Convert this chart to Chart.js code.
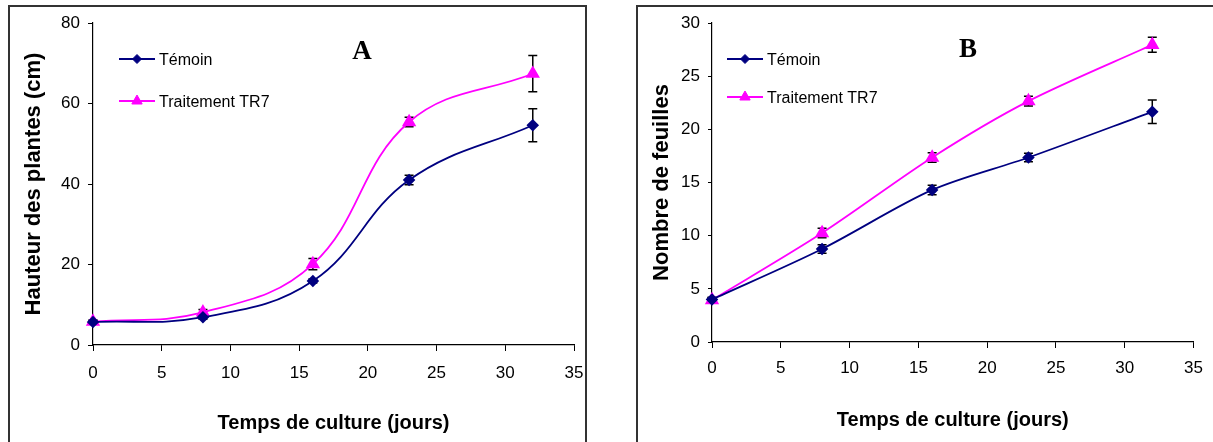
<!DOCTYPE html>
<html><head><meta charset="utf-8">
<script src="https://cdn.jsdelivr.net/npm/chart.js@4.4.1/dist/chart.umd.min.js"></script>
<style>
html,body{margin:0;padding:0;background:#fff;overflow:hidden;width:1213px;height:442px;}
.frame{position:absolute;top:5px;height:480px;border:2px solid #333;border-bottom:none;box-sizing:border-box;}
#frameA{left:8px;width:579px;}
#frameB{left:636px;width:620px;}
canvas{position:absolute;top:0;}
</style></head>
<body>
<div class="frame" id="frameA"></div>
<div class="frame" id="frameB"></div>
<canvas id="chartA" width="600" height="442" style="left:0px"></canvas>
<canvas id="chartB" width="607" height="442" style="left:606px"></canvas>
<script>
// ---- data ----
const days = [0, 8, 16, 23, 32];
const seriesNames = ['Témoin', 'Traitement TR7'];
const hauteurTemoin = [5.7, 6.9, 15.9, 41.0, 54.6];
const hauteurTemoinErr = [0.4, 0.5, 0.5, 1.2, 4.1];
const hauteurTR7 = [5.8, 8.1, 20.1, 55.4, 67.4];
const hauteurTR7Err = [0.4, 0.7, 1.4, 1.2, 4.5];
const feuillesTemoin = [4.0, 8.75, 14.3, 17.35, 21.65];
const feuillesTemoinErr = [0.2, 0.4, 0.45, 0.4, 1.1];
const feuillesTR7 = [3.95, 10.25, 17.35, 22.65, 27.95];
const feuillesTR7Err = [0.2, 0.45, 0.45, 0.45, 0.7];
const xTickValues = [0, 5, 10, 15, 20, 25, 30, 35];
const yTicksA = [0, 20, 40, 60, 80];
const yTicksB = [0, 5, 10, 15, 20, 25, 30];

const NAVY = '#000080', MAGENTA = '#FF00FF';
const SANS = '"Liberation Sans", Arial, sans-serif';
const SERIF = '"Liberation Serif", "Times New Roman", serif';

// use an Arial-Narrow-like face if installed, else regular sans at a smaller size
function hasFont(name){
  const c = document.createElement('canvas').getContext('2d');
  const s = 'Témoin Traitement 0123456789';
  c.font = '20px monospace'; const w1 = c.measureText(s).width;
  c.font = '20px "' + name + '", monospace'; const w2 = c.measureText(s).width;
  c.font = '20px serif'; const w3 = c.measureText(s).width;
  c.font = '20px "' + name + '", serif'; const w4 = c.measureText(s).width;
  return w1 !== w2 || w3 !== w4;
}
let NARROW = SANS, tickSize = 17, legendSize = 16;
for (const f of ['Liberation Sans Narrow', 'Arial Narrow']) {
  if (hasFont(f)) { NARROW = '"' + f + '", ' + SANS; tickSize = 19; legendSize = 19; break; }
}

function pts(xs, ys){ return xs.map((x,i)=>({x:x, y:ys[i]})); }

function drawMarker(ctx, style, x, y, r, color){
  ctx.beginPath();
  if(style === 'rectRot'){
    ctx.moveTo(x, y-r); ctx.lineTo(x+r, y); ctx.lineTo(x, y+r); ctx.lineTo(x-r, y);
  } else {
    ctx.moveTo(x, y-r); ctx.lineTo(x+r*0.866, y+r/2); ctx.lineTo(x-r*0.866, y+r/2);
  }
  ctx.closePath();
  ctx.fillStyle = color; ctx.fill();
  ctx.lineWidth = 1; ctx.strokeStyle = color; ctx.stroke();
}

const errorBars = {
  id: 'errorBars',
  beforeDatasetsDraw(chart){
    const ctx = chart.ctx, xs = chart.scales.x, ys = chart.scales.y;
    ctx.save();
    ctx.strokeStyle = '#000'; ctx.lineWidth = 1.5;
    chart.data.datasets.forEach(ds=>{
      if(!ds.errors) return;
      ds.data.forEach((p,j)=>{
        const e = ds.errors[j];
        const px = xs.getPixelForValue(p.x);
        const t = ys.getPixelForValue(p.y + e), b = ys.getPixelForValue(p.y - e);
        ctx.beginPath();
        ctx.moveTo(px, t); ctx.lineTo(px, b);
        ctx.moveTo(px-4.5, t); ctx.lineTo(px+4.5, t);
        ctx.moveTo(px-4.5, b); ctx.lineTo(px+4.5, b);
        ctx.stroke();
      });
    });
    ctx.restore();
  }
};

const customLegend = {
  id: 'customLegend',
  afterDraw(chart, args, opts){
    const ctx = chart.ctx, ca = chart.chartArea;
    ctx.save();
    chart.data.datasets.forEach((ds,i)=>{
      const y = ca.top + opts.rows[i];
      const x0 = ca.left + opts.lineStart;
      ctx.strokeStyle = ds.borderColor; ctx.lineWidth = 2;
      ctx.beginPath(); ctx.moveTo(x0, y); ctx.lineTo(x0 + 36, y); ctx.stroke();
      drawMarker(ctx, ds.pointStyle, x0 + 18, y, ds.pointStyle === 'rectRot' ? 4.5 : 6, ds.borderColor);
      ctx.fillStyle = '#000';
      ctx.font = legendSize + 'px ' + NARROW;
      ctx.textBaseline = 'alphabetic'; ctx.textAlign = 'left';
      ctx.fillText(ds.label, x0 + 40, y + 6);
    });
    ctx.font = 'bold 27px ' + SERIF;
    ctx.textAlign = 'center';
    ctx.fillText(opts.panel, ca.left + opts.panelX, ca.top + opts.panelY);
    ctx.restore();
  }
};

function makeChart(id, cfg){
  const tickFont = {family: NARROW, size: tickSize};
  const titleFont = {family: SANS, size: 20, weight: 'bold'};
  const yTitleFont = {family: SANS, size: 22, weight: 'bold'};
  return new Chart(document.getElementById(id), {
    type: 'line',
    data: {
      datasets: [
        {label: seriesNames[0], data: pts(days, cfg.s1), errors: cfg.e1,
         borderColor: NAVY, backgroundColor: NAVY, pointBackgroundColor: NAVY, pointBorderColor: NAVY,
         pointStyle: 'rectRot', pointRadius: 5, pointHoverRadius: 5, borderWidth: 1.8, tension: cfg.tension, fill: false, clip: false},
        {label: seriesNames[1], data: pts(days, cfg.s2), errors: cfg.e2,
         borderColor: MAGENTA, backgroundColor: MAGENTA, pointBackgroundColor: MAGENTA, pointBorderColor: MAGENTA,
         pointStyle: 'triangle', pointRadius: 6.5, pointHoverRadius: 6.5, borderWidth: 1.8, tension: cfg.tension, fill: false, clip: false}
      ]
    },
    options: {
      responsive: false, animation: false, events: [],
      layout: {padding: {left: 0, top: 23, right: cfg.padRight, bottom: 0}},
      plugins: {
        legend: {display: false}, tooltip: {enabled: false},
        customLegend: cfg.legend
      },
      scales: {
        x: {
          type: 'linear', min: 0, max: 35,
          afterBuildTicks: s => { s.ticks = xTickValues.map(v=>({value:v})); },
          ticks: {font: tickFont, color: '#000', padding: cfg.xTickPad, maxRotation: 0, autoSkip: false},
          grid: {drawOnChartArea: false, drawTicks: true, tickLength: 6, color: '#000', lineWidth: 1},
          border: {display: true, color: '#000', width: 1.2},
          title: {display: true, text: 'Temps de culture (jours)', font: titleFont, color: '#000', padding: {top: 0, bottom: cfg.xTitlePad}},
          afterFit: s => { s.height = cfg.xHeight; }
        },
        y: {
          type: 'linear', min: 0, max: cfg.yMax,
          afterBuildTicks: s => { s.ticks = cfg.yTicks.map(v=>({value:v})); },
          ticks: {font: tickFont, color: '#000', padding: 8, autoSkip: false},
          grid: {drawOnChartArea: false, drawTicks: true, tickLength: cfg.yTickLen, color: '#000', lineWidth: 1},
          border: {display: true, color: '#000', width: 1.2},
          title: {display: true, text: cfg.yTitle, font: yTitleFont, color: '#000', padding: {top: cfg.yTitlePad, bottom: 0}},
          afterFit: s => { s.width = cfg.yWidth; }
        }
      }
    },
    plugins: [errorBars, customLegend]
  });
}

makeChart('chartA', {
  s1: hauteurTemoin, e1: hauteurTemoinErr, s2: hauteurTR7, e2: hauteurTR7Err,
  yMax: 80, yTicks: yTicksA, yTitle: 'Hauteur des plantes (cm)', tension: 0.4,
  padRight: 26, xHeight: 97, yWidth: 93, xTickPad: 12, xTitlePad: 7, yTitlePad: 21, yTickLen: 5,
  legend: {lineStart: 26, rows: [36, 78], panel: 'A', panelX: 269, panelY: 36}
});
makeChart('chartB', {
  s1: feuillesTemoin, e1: feuillesTemoinErr, s2: feuillesTR7, e2: feuillesTR7Err,
  yMax: 30, yTicks: yTicksB, yTitle: 'Nombre de feuilles', tension: 0.3,
  padRight: 11, xHeight: 100, yWidth: 106, xTickPad: 10, xTitlePad: 10, yTitlePad: 43, yTickLen: 4,
  legend: {lineStart: 15, rows: [36, 74], panel: 'B', panelX: 256, panelY: 34}
});
</script>
</body></html>
